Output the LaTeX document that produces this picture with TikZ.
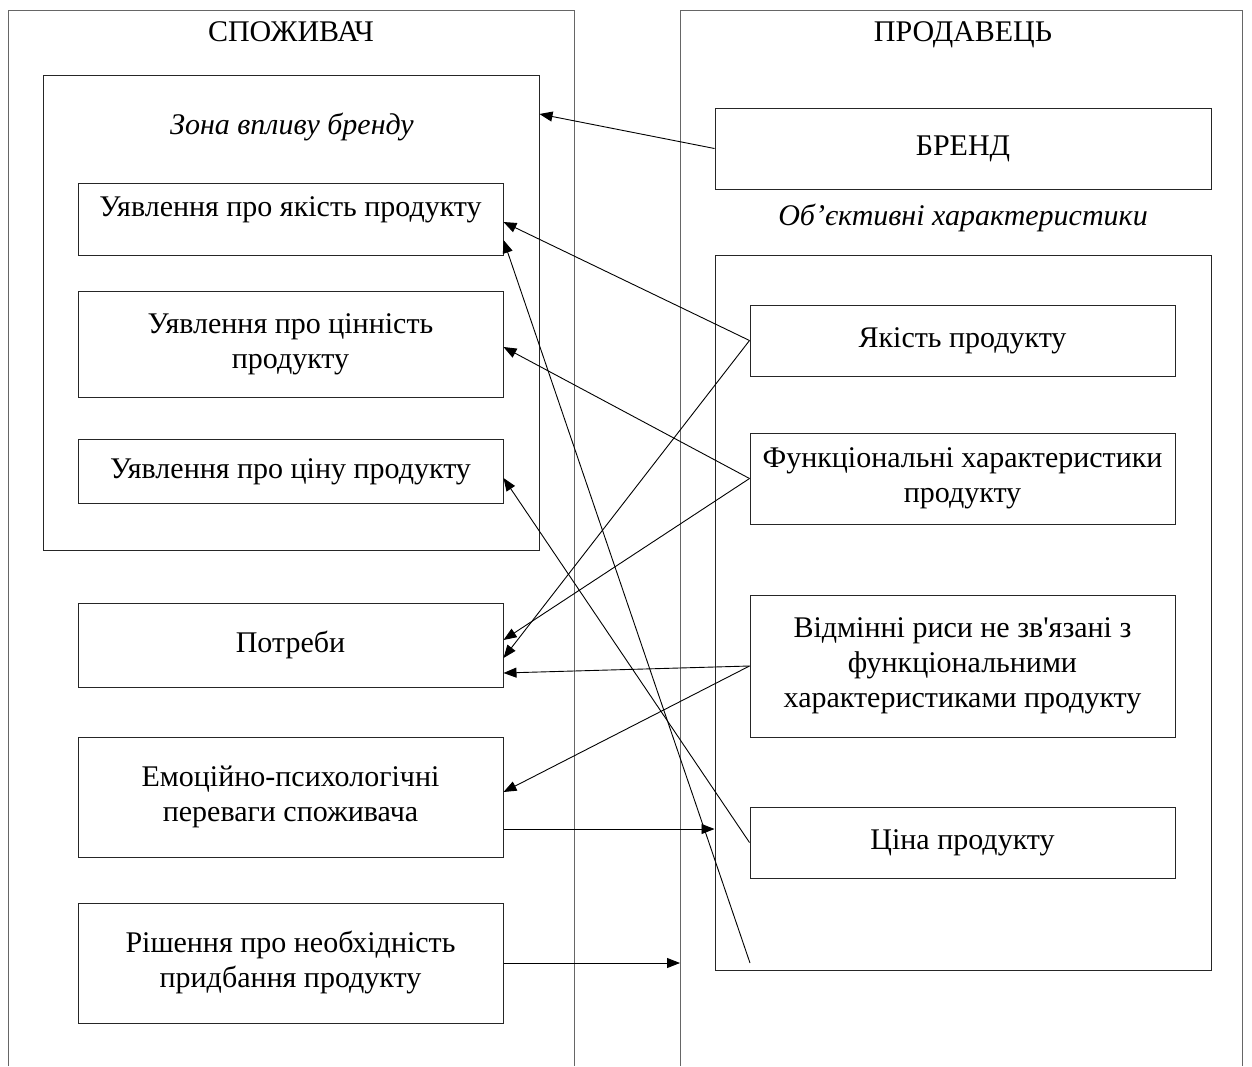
\documentclass[tikz,border=0pt]{standalone}
\usepackage{fontspec}
\setmainfont{Liberation Serif}
\newfontfamily\lib{Liberation Serif}
\usetikzlibrary{arrows.meta}
\newcommand{\mystrut}{\rule[-6.6pt]{0pt}{28pt}}
\begin{document}
\begin{tikzpicture}[x=1pt,y=-1pt,
  font=\lib\fontsize{30}{35}\selectfont,
  box/.style={draw=black!85, line width=1pt, rectangle, inner sep=0pt, align=center, execute at begin node=\mystrut},
  lbl/.style={inner sep=0pt, align=center, execute at begin node=\mystrut},
  arr/.style={line width=0.9pt, -{Triangle[length=13pt,width=10pt]}},
  col/.style={draw=black!60, line width=1pt}]
\useasboundingbox (0,0) rectangle (1252,1066);
% columns
\draw[col] (8,1066) -- (8,10) -- (574,10) -- (574,1066);
\draw[col] (680,1066) -- (680,10) -- (1242,10) -- (1242,1066);
\coordinate (rcol) at (680,963);
\node[lbl] (tcons) at (291,34) {СПОЖИВАЧ};
\node[lbl] (tsell) at (963,34) {ПРОДАВЕЦЬ};
% consumer side
\node[box, minimum width=496pt, minimum height=475pt] (zone) at (291,312.5) {};
\node[lbl, font=\lib\itshape\fontsize{30}{35}\selectfont] (zt) at (292,127) {Зона впливу бренду};
\node[box, minimum width=425pt, minimum height=72pt] (b1) at (290.5,219) {};
\node[lbl] (b1t) at (290.5,209) {Уявлення про якість продукту};
\node[box, minimum width=425pt, minimum height=106pt] (b2) at (290.5,344) {Уявлення про цінність\\продукту};
\node[box, minimum width=425pt, minimum height=64pt] (b3) at (290.5,471) {Уявлення про ціну продукту};
\node[box, minimum width=425pt, minimum height=84pt] (need) at (290.5,645) {Потреби};
\node[box, minimum width=425pt, minimum height=120pt] (emo) at (290.5,797) {Емоційно-психологічні\\переваги споживача};
\node[box, minimum width=425pt, minimum height=120pt] (dec) at (290.5,963) {Рішення про необхідність\\придбання продукту};
% seller side
\node[box, minimum width=496pt, minimum height=81pt] (brand) at (963,148.5) {БРЕНД};
\node[lbl, font=\lib\itshape\fontsize{30}{35}\selectfont] (objt) at (963,218) {Об’єктивні характеристики};
\node[box, minimum width=496pt, minimum height=715pt] (obj) at (963,612.5) {};
\node[box, minimum width=425pt, minimum height=71pt] (yak) at (962.5,340.5) {Якість продукту};
\node[box, minimum width=425pt, minimum height=91pt] (fun) at (962.5,478.5) {Функціональні характеристики\\продукту};
\node[box, minimum width=425pt, minimum height=142pt] (vid) at (962.5,666) {Відмінні риси не зв'язані з\\функціональними\\характеристиками продукту};
\node[box, minimum width=425pt, minimum height=71pt] (price) at (962.5,842.5) {Ціна продукту};
\coordinate (tail) at (750,963);
% connectors
\draw[arr] (brand.west) -- (zone.east |- 0,114);
\draw[arr] (yak.west) -- (b1.east |- 0,222);
\draw[arr] (yak.west) -- (need.east |- 0,658);
\draw[arr] (fun.west) -- (b2.east |- 0,347);
\draw[arr] (fun.west) -- (need.east |- 0,640);
\draw[arr] (vid.west) -- (need.east |- 0,673);
\draw[arr] (vid.west) -- (emo.east |- 0,792);
\draw[arr] (price.west) -- (b3.east |- 0,478);
\draw[arr] (tail) -- (b1.east |- 0,240);
\draw[arr] (emo.east |- 0,829) -- (obj.west |- 0,829);
\draw[arr] (dec.east |- 0,963) -- (rcol);
\end{tikzpicture}
\end{document}
